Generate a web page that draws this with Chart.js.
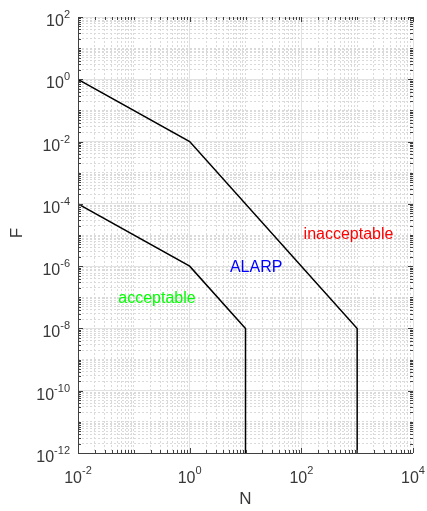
<!DOCTYPE html>
<html>
<head>
<meta charset="utf-8">
<script src="https://cdn.jsdelivr.net/npm/chart.js@4/dist/chart.umd.min.js"></script>
<style>
  html, body { margin: 0; padding: 0; background: #fff; }
</style>
</head>
<body>
<canvas id="chart" width="427" height="511"></canvas>
<script>
// F-N criterion lines (frequency vs number of fatalities)
const upperN = [0.01, 1, 1000, 1000];
const upperF = [1, 0.01, 1e-8, 1e-12];
const lowerN = [0.01, 1, 10, 10];
const lowerF = [1e-4, 1e-6, 1e-8, 1e-12];

// labelled decades (exponents of 10)
const xTickExps = [-2, 0, 2, 4];
const yTickExps = [2, 0, -2, -4, -6, -8, -10, -12];

// region labels, placed in data coordinates
const regionLabels = ['inacceptable', 'ALARP', 'acceptable'];
const regionN = [700, 15.5, 0.26];
const regionF = [1e-5, 9e-7, 9.3e-8];
const regionColors = ['#ff0000', '#0000ff', '#00ff00'];

const FONT = '"Liberation Sans", Arial, sans-serif';
const AXIS_COLOR = '#404040';
const LABEL_COLOR = '#383838';

// 1..9 x 10^d for every decade, majors only on labelled decades
function logTicks(lo, hi, labelled) {
  const ticks = [];
  for (let d = lo; d < hi; d++) {
    for (let k = 1; k <= 9; k++) {
      const value = Number((k * Math.pow(10, d)).toPrecision(12));
      ticks.push({ value, major: k === 1 && labelled.includes(d) });
    }
  }
  ticks.push({ value: Math.pow(10, hi), major: labelled.includes(hi) });
  return ticks;
}

const gridColor = ctx => (ctx.tick && ctx.tick.major) ? '#e2e2e2' : '#dadada';
const gridDash = ctx => (ctx.tick && ctx.tick.major) ? [] : [2, 2];

function toPoints(xs, ys) {
  return xs.map((x, i) => ({ x, y: ys[i] }));
}

const decorations = {
  id: 'decorations',
  afterDraw(chart) {
    const { ctx, chartArea: a, scales: { x, y } } = chart;
    ctx.save();

    // axis lines (left and bottom)
    ctx.strokeStyle = AXIS_COLOR;
    ctx.lineWidth = 1;
    ctx.beginPath();
    ctx.moveTo(a.left + 0.5, a.top);
    ctx.lineTo(a.left + 0.5, a.bottom + 0.5);
    ctx.lineTo(a.right, a.bottom + 0.5);
    ctx.stroke();

    // inward ticks on all four sides
    ctx.beginPath();
    x.ticks.forEach(t => {
      const px = Math.round(x.getPixelForValue(t.value)) + 0.5;
      const len = t.major ? 5 : 3;
      ctx.moveTo(px, a.bottom); ctx.lineTo(px, a.bottom - len);
      ctx.moveTo(px, a.top); ctx.lineTo(px, a.top + len);
    });
    y.ticks.forEach(t => {
      const py = Math.round(y.getPixelForValue(t.value)) + 0.5;
      const len = t.major ? 5 : 3;
      ctx.moveTo(a.left, py); ctx.lineTo(a.left + len, py);
      ctx.moveTo(a.right, py); ctx.lineTo(a.right - len, py);
    });
    ctx.stroke();

    // tick labels as 10 with a raised exponent
    ctx.fillStyle = LABEL_COLOR;
    ctx.textBaseline = 'alphabetic';
    ctx.textAlign = 'left';
    const baseFont = '16px ' + FONT;
    const expFont = '11px ' + FONT;

    yTickExps.forEach(e => {
      const py = y.getPixelForValue(Math.pow(10, e));
      ctx.font = baseFont;
      const w10 = ctx.measureText('10').width;
      ctx.font = expFont;
      const expText = String(e);
      const wExp = ctx.measureText(expText).width;
      const start = a.left - 8 - w10 - wExp;
      ctx.font = baseFont;
      ctx.fillText('10', start, py + 9);
      ctx.font = expFont;
      ctx.fillText(expText, start + w10, py + 1);
    });

    xTickExps.forEach(e => {
      const px = x.getPixelForValue(Math.pow(10, e));
      ctx.font = baseFont;
      const w10 = ctx.measureText('10').width;
      ctx.font = expFont;
      const expText = String(e);
      const wExp = ctx.measureText(expText).width;
      const start = px - (w10 + wExp) / 2;
      ctx.font = baseFont;
      ctx.fillText('10', start, a.bottom + 30);
      ctx.font = expFont;
      ctx.fillText(expText, start + w10, a.bottom + 21);
    });

    // axis titles
    ctx.font = '17px ' + FONT;
    ctx.textAlign = 'center';
    ctx.textBaseline = 'middle';
    ctx.fillText('N', (a.left + a.right) / 2, a.bottom + 46);
    ctx.save();
    ctx.translate(17, (a.top + a.bottom) / 2 - 2);
    ctx.rotate(-Math.PI / 2);
    ctx.fillText('F', 0, 0);
    ctx.restore();

    // region labels
    ctx.font = '16px ' + FONT;
    regionLabels.forEach((label, i) => {
      ctx.fillStyle = regionColors[i];
      ctx.fillText(label, x.getPixelForValue(regionN[i]), y.getPixelForValue(regionF[i]));
    });

    ctx.restore();
  }
};

new Chart(document.getElementById('chart'), {
  type: 'scatter',
  data: {
    datasets: [
      {
        label: 'upper',
        data: toPoints(upperN, upperF),
        showLine: true,
        borderColor: '#000000',
        borderWidth: 1.5,
        pointRadius: 0,
        fill: false,
      },
      {
        label: 'lower',
        data: toPoints(lowerN, lowerF),
        showLine: true,
        borderColor: '#000000',
        borderWidth: 1.5,
        pointRadius: 0,
        fill: false,
      },
    ]
  },
  options: {
    responsive: false,
    devicePixelRatio: 1,
    animation: false,
    layout: { padding: { left: 78, right: 14, top: 17, bottom: 58 } },
    plugins: {
      legend: { display: false },
      tooltip: { enabled: false },
    },
    scales: {
      x: {
        type: 'logarithmic',
        min: 1e-2,
        max: 1e4,
        afterBuildTicks: s => { s.ticks = logTicks(-2, 4, xTickExps); },
        ticks: { display: false },
        grid: { color: gridColor, drawTicks: false, lineWidth: 1 },
        border: { display: false, dash: gridDash },
      },
      y: {
        type: 'logarithmic',
        min: 1e-12,
        max: 1e2,
        afterBuildTicks: s => { s.ticks = logTicks(-12, 2, yTickExps); },
        ticks: { display: false },
        grid: { color: gridColor, drawTicks: false, lineWidth: 1 },
        border: { display: false, dash: gridDash },
      }
    }
  },
  plugins: [decorations]
});
</script>
</body>
</html>
